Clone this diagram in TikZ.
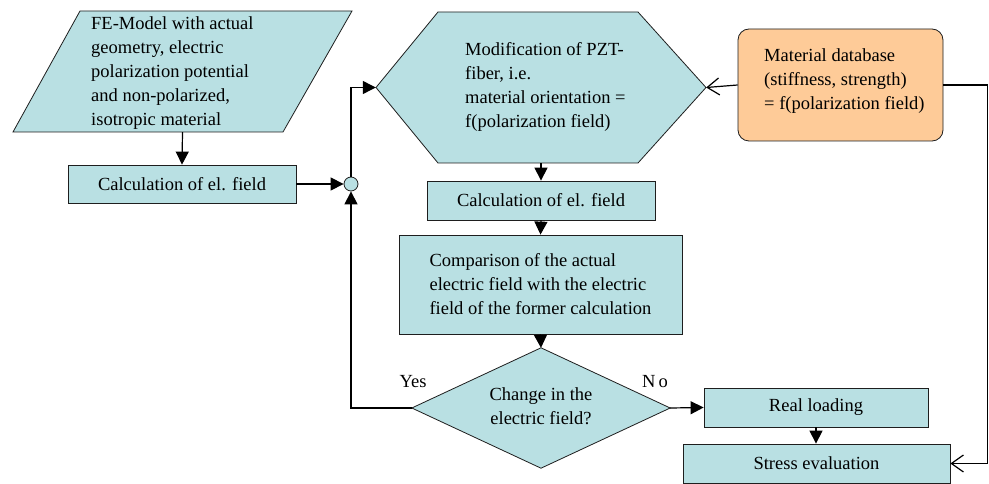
\documentclass[tikz,border=0pt]{standalone}
\usepackage{fontspec}
\setmainfont{Liberation Serif}
\usetikzlibrary{arrows.meta,calc}
\definecolor{cyanfill}{RGB}{185,224,227}
\definecolor{orangefill}{RGB}{254,203,152}
\definecolor{edge}{RGB}{30,30,30}
\tikzset{
  shapeline/.style={draw=edge, line width=0.8pt, fill=cyanfill},
  box/.style={shapeline, rectangle, inner sep=0pt},
  inv/.style={rectangle, inner sep=0pt},
  txt/.style={inner sep=0pt, align=left, anchor=west},
  flow/.style={line width=1.2pt, -{Triangle[length=13pt,width=13pt]}},
  openflow/.style={line width=1.2pt, -{Straight Barb[length=12pt,width=17pt,line width=1.2pt]}},
  lbl/.style={inner sep=0pt}
}
\begin{document}
\begin{tikzpicture}[x=1pt,y=-1pt,font=\fontsize{18.5pt}{24pt}\selectfont]
\useasboundingbox (0,0) rectangle (989,484);
\fill[white] (0,0) rectangle (989,484);

% parallelogram
\node[inv, minimum width=339pt, minimum height=121pt] (fe) at (182.5,71.5) {};
\draw[shapeline] (80,11) -- (352,11) -- (283,132) -- (13,132) -- cycle;
\node[txt] (fetext) at (91,73) {FE-Model with actual\\geometry, electric\\polarization potential\\and non-polarized,\\isotropic material};

% calc 1
\node[box, minimum width=228pt, minimum height=38pt] (calc1) at (182,184) {Calculation of el. field};

% circle
\node[shapeline, circle, minimum size=14pt, inner sep=0pt] (circ) at (351,184) {};

% hexagon
\node[inv, minimum width=330pt, minimum height=151pt] (hex) at (541,87.5) {};
\draw[shapeline] (376,87.5) -- (438,12) -- (638,12) -- (706,87.5) -- (638,163) -- (438,163) -- cycle;
\node[txt] (hextext) at (465,87) {Modification of PZT-\\fiber, i.e.\\material orientation =\\f(polarization field)};

% calc 2
\node[box, minimum width=228pt, minimum height=39pt] (calc2) at (541,200.5) {Calculation of el. field};

% comparison
\node[box, minimum width=283pt, minimum height=99pt, align=left] (comp) at (540.5,284.5) {Comparison of the actual\\electric field with the electric\\field of the former calculation};

% diamond
\node[inv, minimum width=258pt, minimum height=120pt] (dia) at (541,408) {};
\draw[shapeline] (dia.north) -- (dia.east) -- (dia.south) -- (dia.west) -- cycle;
\node[inv, align=center] (diatext) at (541,406) {Change in the\\electric field?};

% real loading, stress
\node[box, minimum width=224pt, minimum height=39pt] (real) at (816,407.5) {Real loading};
\node[box, minimum width=267pt, minimum height=39pt] (stress) at (816.5,463.5) {Stress evaluation};

% material database
\node[draw=edge, line width=0.8pt, fill=orangefill, rounded corners=11pt, minimum width=205pt, minimum height=112pt, inner sep=0pt] (mat) at (840.5,85) {};
\node[txt] (mattext) at (764,81) {Material database\\(stiffness, strength)\\= f(polarization field)};

% labels
\node[lbl] (yes) at (413,382) {Yes};
\node[lbl] (no) at (655,382) {N\,o};

% connectors
\draw[flow] (fe.south) -- (calc1.north);
\draw[flow] (calc1.east) -- (circ.west);
\draw[flow] (circ.north) |- (hex.west);
\draw[flow] (hex.south) -- (calc2.north);
\draw[flow] (calc2.south) -- (comp.north);
\draw[flow] (comp.south) -- (dia.north);
\draw[flow] (dia.west) -| (circ.south);
\draw[flow] (dia.east) -- (real.west);
\draw[flow] (real.south) -- (real.south |- stress.north);
\draw[openflow] (mat.west) -- (hex.east);
\draw[openflow] (mat.east) -- ([xshift=44pt]mat.east) |- (stress.east);
\end{tikzpicture}
\end{document}
